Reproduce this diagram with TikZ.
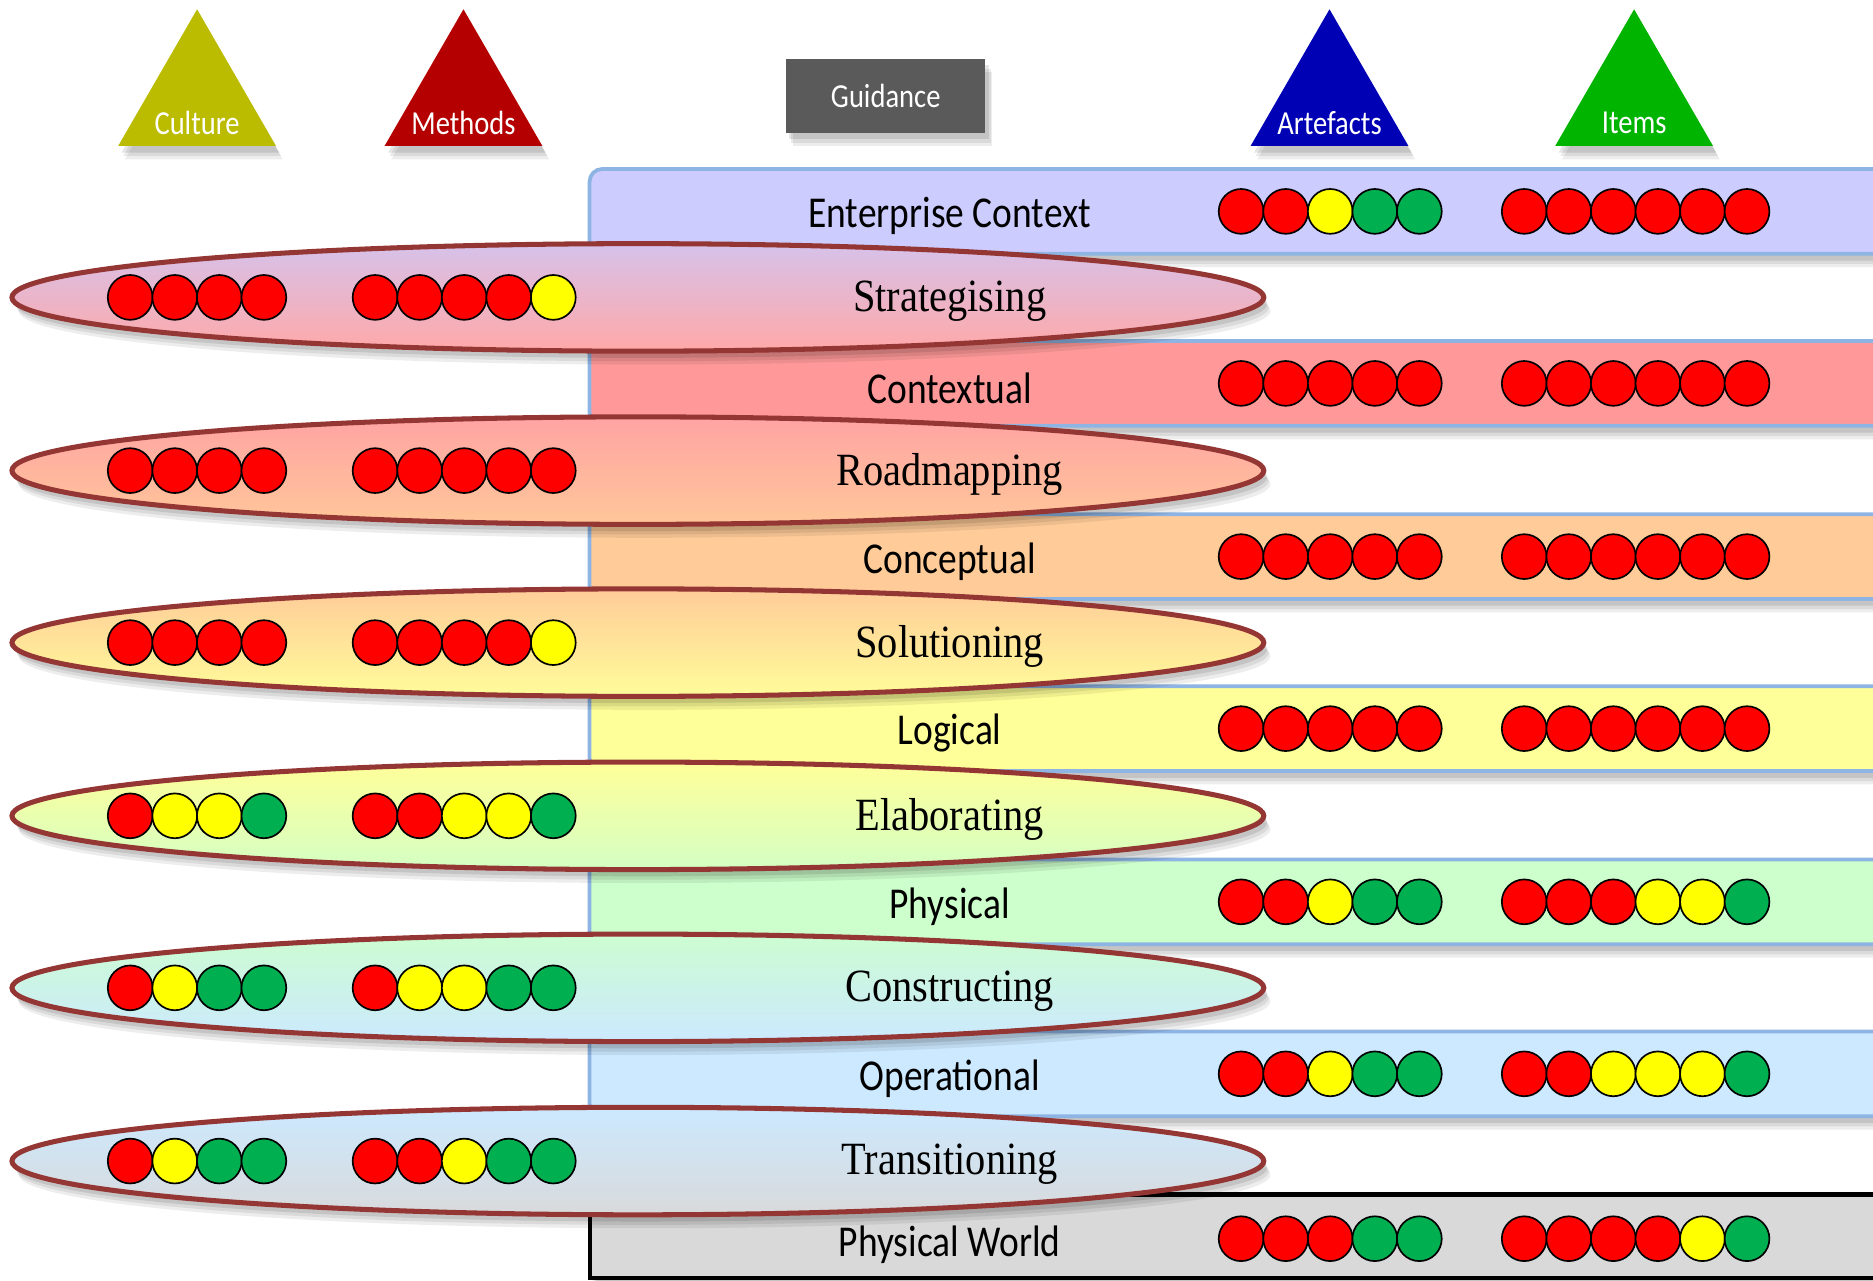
\documentclass[tikz,border=0pt]{standalone}
\usepackage{fontspec}
\newfontfamily\bandfont{Carlito}[FakeStretch=0.85]
\newfontfamily\phasefont{Liberation Serif}[FakeStretch=0.875]
\usetikzlibrary{shapes.geometric, shadows, positioning}

\definecolor{R}{HTML}{FF0000}
\definecolor{Y}{HTML}{FFFF00}
\definecolor{G}{HTML}{00B050}
\definecolor{ecfill}{HTML}{CCCCFF}
\definecolor{cxfill}{HTML}{FF9999}
\definecolor{cpfill}{HTML}{FFCC99}
\definecolor{lgfill}{HTML}{FFFF99}
\definecolor{phfill}{HTML}{CCFFCC}
\definecolor{opfill}{HTML}{CCE9FF}
\definecolor{pwfill}{HTML}{D9D9D9}
\definecolor{bandline}{HTML}{8EB4E3}
\definecolor{ellline}{HTML}{943634}
\definecolor{cultfill}{HTML}{BBBB00}
\definecolor{methfill}{HTML}{B40000}
\definecolor{artfill}{HTML}{0000B4}
\definecolor{itemfill}{HTML}{00B400}
\definecolor{guidfill}{HTML}{5A5A5A}

\tikzset{
  shadowed/.style={
    general shadow={shadow xshift=1.6pt, shadow yshift=-3.2pt, opacity=0.07, fill=black},
    general shadow={shadow xshift=1.2pt, shadow yshift=-2.4pt, opacity=0.08, fill=black},
    general shadow={shadow xshift=0.8pt, shadow yshift=-1.6pt, opacity=0.10, fill=black}},
  band/.style={rectangle, draw=bandline, line width=0.9pt, rounded corners=3pt,
               anchor=west, minimum width=10.9cm, minimum height=0.71cm,
               inner sep=0pt, shadowed},
  bandlbl/.style={font=\bandfont\fontsize{10.5}{12}\selectfont, inner sep=0pt},
  phase/.style={ellipse, draw=ellline, line width=1.2pt, minimum width=10.48cm,
                minimum height=0.9cm, inner sep=0pt, shadowed},
  phaselbl/.style={font=\phasefont\fontsize{11}{13}\selectfont, inner sep=0pt},
  tri/.style={regular polygon, regular polygon sides=3, minimum size=1.524cm,
              inner sep=0pt, shadowed},
  trilbl/.style={font=\bandfont\fontsize{8}{9}\selectfont, text=white, inner sep=0pt},
  dot/.style={circle, draw=black, line width=0.4pt, minimum size=0.375cm, inner sep=0pt},
}

% row of rating dots: name, first x, y, colours
\newcommand{\dotrow}[4]{%
  \foreach \col [count=\i] in {#4}
    \node[dot, fill=\col] (#1-\i) at ({#2+(\i-1)*0.373}, #3) {};
}

\begin{document}
\begin{tikzpicture}
  \useasboundingbox (0,0) rectangle (15.68,10.72);
  \def\XA{10.39} \def\XI{12.76} \def\XC{1.09} \def\XM{3.14}

  % column heads
  \node[tri, fill=cultfill] (culture) at (1.65,9.88) {};
  \node[tri, fill=methfill] (methods) at (3.88,9.88) {};
  \node[tri, fill=artfill] (artefacts) at (11.13,9.88) {};
  \node[tri, fill=itemfill] (items) at (13.68,9.88) {};
  \node[trilbl] (culture-t) at (1.65,9.69) {Culture};
  \node[trilbl] (methods-t) at (3.88,9.69) {Methods};
  \node[trilbl] (artefacts-t) at (11.13,9.69) {Artefacts};
  \node[trilbl] (items-t) at (13.68,9.69) {Items};
  \node[rectangle, fill=guidfill, minimum width=1.67cm, minimum height=0.62cm,
        shadowed, font=\bandfont\fontsize{8}{9}\selectfont, text=white]
    (guidance) at (7.415,9.92) {Guidance};

  % layers
  \node[band, fill=ecfill] (ec) at (4.92,8.95) {};
  \node[band, fill=cxfill] (cx) at (4.92,7.51) {};
  \node[band, fill=cpfill] (cp) at (4.92,6.06) {};
  \node[band, fill=lgfill] (lg) at (4.92,4.62) {};
  \node[band, fill=phfill] (ph) at (4.92,3.17) {};
  \node[band, fill=opfill] (op) at (4.92,1.73) {};
  \node[band, fill=pwfill, draw=black, line width=1pt, rounded corners=0pt,
        minimum height=0.70cm] (pw) at (4.92,0.37) {};

  % phases
  \node[phase, top color=ecfill!80!cxfill, bottom color=cxfill!85!white] (strat) at (5.34,8.23) {};
  \node[phase, top color=cxfill!90!white, bottom color=cpfill!90!cxfill] (road) at (5.34,6.78) {};
  \node[phase, top color=cpfill, bottom color=lgfill!95!cpfill] (sol) at (5.34,5.34) {};
  \node[phase, top color=lgfill, bottom color=phfill!85!lgfill] (elab) at (5.34,3.89) {};
  \node[phase, top color=phfill!90!opfill, bottom color=opfill] (cons) at (5.34,2.45) {};
  \node[phase, top color=opfill, bottom color=pwfill!95!opfill] (trans) at (5.34,1.00) {};

  % labels
  \node[bandlbl] (ec-t) at (7.95,8.91) {Enterprise Context};
  \node[bandlbl] (cx-t) at (7.95,7.47) {Contextual};
  \node[bandlbl] (cp-t) at (7.95,6.02) {Conceptual};
  \node[bandlbl] (lg-t) at (7.95,4.58) {Logical};
  \node[bandlbl] (ph-t) at (7.95,3.13) {Physical};
  \node[bandlbl] (op-t) at (7.95,1.69) {Operational};
  \node[bandlbl] (pw-t) at (7.95,0.30) {Physical World};
  \node[phaselbl] (strat-t) at (7.95,8.20) {Strategising};
  \node[phaselbl] (road-t) at (7.95,6.75) {Roadmapping};
  \node[phaselbl] (sol-t) at (7.95,5.31) {Solutioning};
  \node[phaselbl] (elab-t) at (7.95,3.86) {Elaborating};
  \node[phaselbl] (cons-t) at (7.95,2.42) {Constructing};
  \node[phaselbl] (trans-t) at (7.95,0.97) {Transitioning};

  % ratings
  \dotrow{ec-a}{\XA}{8.95}{R,R,Y,G,G}
  \dotrow{ec-i}{\XI}{8.95}{R,R,R,R,R,R}
  \dotrow{cx-a}{\XA}{7.51}{R,R,R,R,R}
  \dotrow{cx-i}{\XI}{7.51}{R,R,R,R,R,R}
  \dotrow{cp-a}{\XA}{6.06}{R,R,R,R,R}
  \dotrow{cp-i}{\XI}{6.06}{R,R,R,R,R,R}
  \dotrow{lg-a}{\XA}{4.62}{R,R,R,R,R}
  \dotrow{lg-i}{\XI}{4.62}{R,R,R,R,R,R}
  \dotrow{ph-a}{\XA}{3.17}{R,R,Y,G,G}
  \dotrow{ph-i}{\XI}{3.17}{R,R,R,Y,Y,G}
  \dotrow{op-a}{\XA}{1.73}{R,R,Y,G,G}
  \dotrow{op-i}{\XI}{1.73}{R,R,Y,Y,Y,G}
  \dotrow{pw-a}{\XA}{0.35}{R,R,R,G,G}
  \dotrow{pw-i}{\XI}{0.35}{R,R,R,R,Y,G}
  \dotrow{strat-c}{\XC}{8.23}{R,R,R,R}
  \dotrow{strat-m}{\XM}{8.23}{R,R,R,R,Y}
  \dotrow{road-c}{\XC}{6.78}{R,R,R,R}
  \dotrow{road-m}{\XM}{6.78}{R,R,R,R,R}
  \dotrow{sol-c}{\XC}{5.34}{R,R,R,R}
  \dotrow{sol-m}{\XM}{5.34}{R,R,R,R,Y}
  \dotrow{elab-c}{\XC}{3.89}{R,Y,Y,G}
  \dotrow{elab-m}{\XM}{3.89}{R,R,Y,Y,G}
  \dotrow{cons-c}{\XC}{2.45}{R,Y,G,G}
  \dotrow{cons-m}{\XM}{2.45}{R,Y,Y,G,G}
  \dotrow{trans-c}{\XC}{1.00}{R,Y,G,G}
  \dotrow{trans-m}{\XM}{1.00}{R,R,Y,G,G}
\end{tikzpicture}
\end{document}
